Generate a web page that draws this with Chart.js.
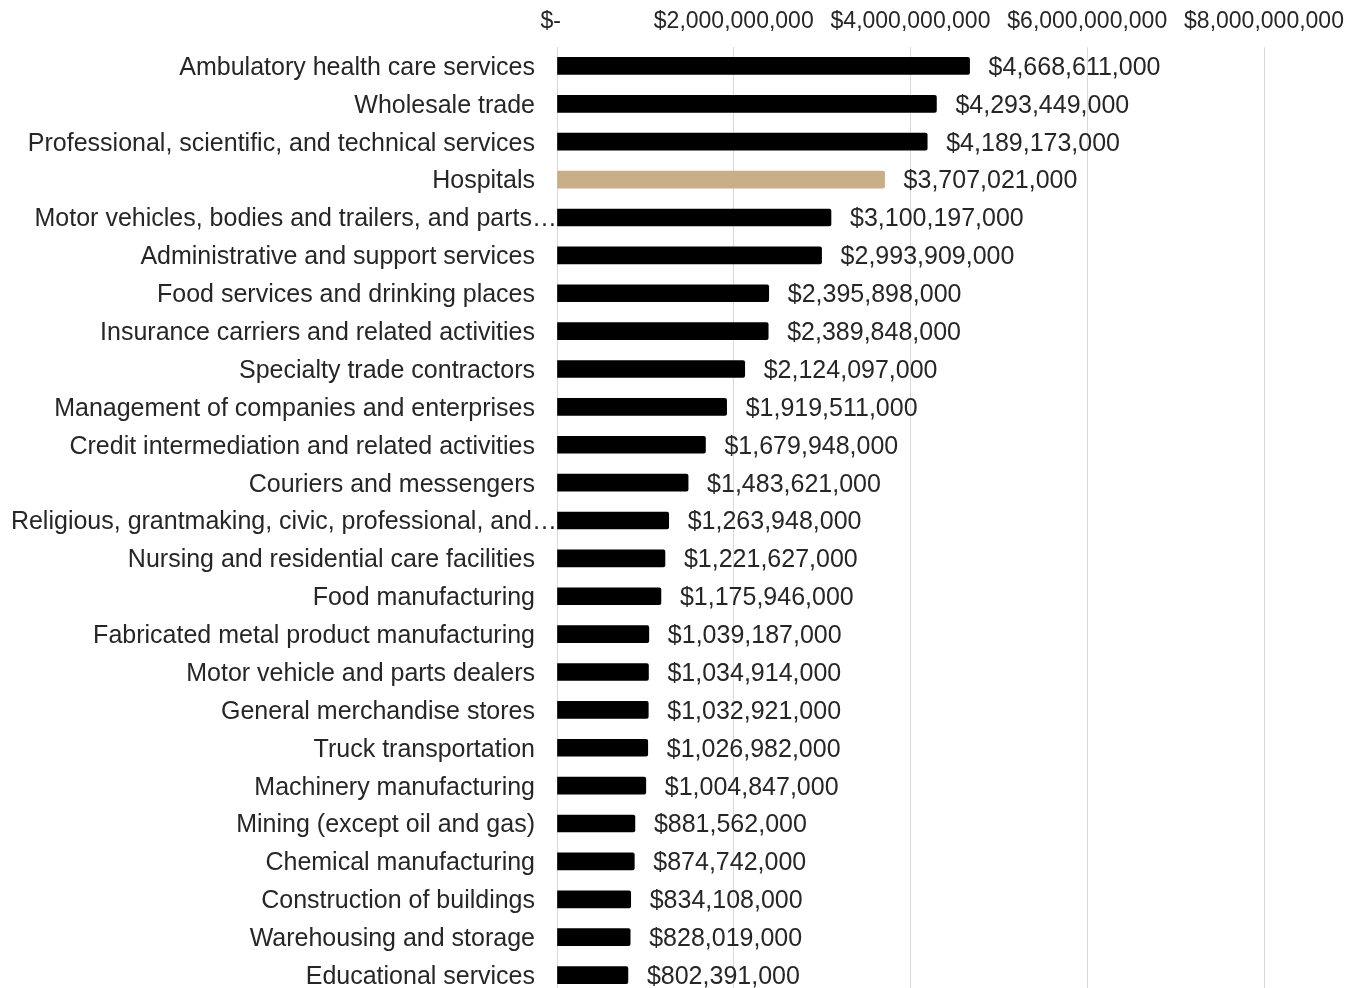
<!DOCTYPE html>
<html>
<head>
<meta charset="utf-8">
<title>Industries by amount</title>
<script src="https://cdn.jsdelivr.net/npm/chart.js@4/dist/chart.umd.min.js"></script>
<style>
  html, body { margin: 0; padding: 0; background: #fff; overflow: hidden; }
  #industryChart { display: block; }
</style>
</head>
<body>
<canvas id="industryChart" width="1360" height="994"></canvas>
<script>
// industries, largest first
const industries = [
  "Ambulatory health care services",
  "Wholesale trade",
  "Professional, scientific, and technical services",
  "Hospitals",
  "Motor vehicles, bodies and trailers, and parts\u2026",
  "Administrative and support services",
  "Food services and drinking places",
  "Insurance carriers and related activities",
  "Specialty trade contractors",
  "Management of companies and enterprises",
  "Credit intermediation and related activities",
  "Couriers and messengers",
  "Religious, grantmaking, civic, professional, and\u2026",
  "Nursing and residential care facilities",
  "Food manufacturing",
  "Fabricated metal product manufacturing",
  "Motor vehicle and parts dealers",
  "General merchandise stores",
  "Truck transportation",
  "Machinery manufacturing",
  "Mining (except oil and gas)",
  "Chemical manufacturing",
  "Construction of buildings",
  "Warehousing and storage",
  "Educational services",
];

const amounts = [
  4668611000, 4293449000, 4189173000, 3707021000, 3100197000,
  2993909000, 2395898000, 2389848000, 2124097000, 1919511000,
  1679948000, 1483621000, 1263948000, 1221627000, 1175946000,
  1039187000, 1034914000, 1032921000, 1026982000, 1004847000,
  881562000, 874742000, 834108000, 828019000, 802391000,
];

const highlighted = "Hospitals";
const axisTicks = [0, 2000000000, 4000000000, 6000000000, 8000000000];

const fontFamily = "'Liberation Sans', Arial, sans-serif";
const textColor = "#262626";

function dollars(v) {
  if (v === 0) return "$-  ";
  return "$" + v.toLocaleString("en-US");
}

// category names: right aligned before the axis, truncated names run up to it
const categoryLabels = {
  id: "categoryLabels",
  beforeDatasetsDraw(chart) {
    const ctx = chart.ctx;
    const y = chart.scales.y;
    ctx.save();
    ctx.font = "25px " + fontFamily;
    ctx.fillStyle = textColor;
    ctx.textAlign = "right";
    ctx.textBaseline = "middle";
    industries.forEach((name, i) => {
      const right = name.endsWith("\u2026") ? y.right : y.right - 22;
      ctx.fillText(name, right, y.getPixelForValue(i) + 2);
    });
    ctx.restore();
  },
};

// writes the dollar amount just past the end of each bar
const valueLabels = {
  id: "valueLabels",
  afterDatasetsDraw(chart) {
    const ctx = chart.ctx;
    const meta = chart.getDatasetMeta(0);
    ctx.save();
    ctx.font = "25px " + fontFamily;
    ctx.fillStyle = textColor;
    ctx.textAlign = "left";
    ctx.textBaseline = "middle";
    meta.data.forEach((bar, i) => {
      ctx.fillText(dollars(amounts[i]), bar.x + 19, bar.y + 2);
    });
    ctx.restore();
  },
};

new Chart(document.getElementById("industryChart"), {
  type: "bar",
  data: {
    labels: industries,
    datasets: [
      {
        data: amounts,
        backgroundColor: industries.map((n) => (n === highlighted ? "#c8af88" : "#000000")),
        barThickness: 17,
        borderRadius: 2,
        borderSkipped: "start",
      },
    ],
  },
  options: {
    indexAxis: "y",
    responsive: false,
    animation: false,
    layout: { padding: { left: 0, right: 96, top: 0, bottom: 0 } },
    plugins: {
      legend: { display: false },
      tooltip: { enabled: false },
    },
    scales: {
      x: {
        position: "top",
        min: 0,
        max: 8000000000,
        afterBuildTicks: (scale) => {
          scale.ticks = axisTicks.map((v) => ({ value: v }));
        },
        afterFit: (scale) => {
          scale.height = 47;
        },
        border: { display: false },
        grid: { color: "#d9d9d9", lineWidth: 1, drawTicks: false },
        ticks: {
          padding: 12,
          color: textColor,
          font: { family: fontFamily, size: 23 },
          maxRotation: 0,
          callback: (v) => dollars(v),
        },
      },
      y: {
        afterFit: (scale) => {
          scale.width = 557;
          scale.paddingTop = 0;
          scale.paddingBottom = 0;
        },
        border: { display: true, color: "#d9d9d9" },
        grid: { display: false },
        ticks: { display: false },
      },
    },
  },
  plugins: [categoryLabels, valueLabels],
});
</script>
</body>
</html>
